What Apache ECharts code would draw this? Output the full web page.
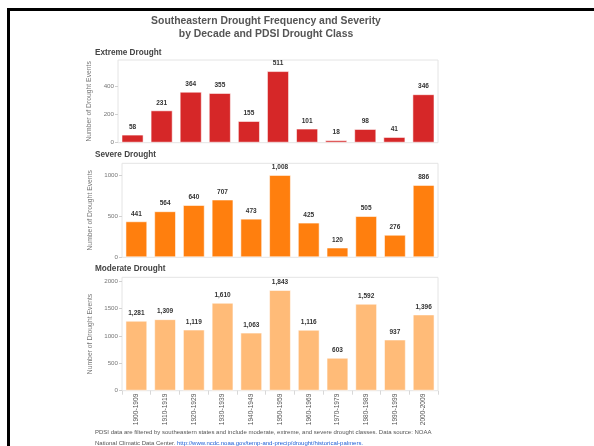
<!DOCTYPE html>
<html>
<head>
<meta charset="utf-8">
<script src="https://cdn.jsdelivr.net/npm/echarts@6/dist/echarts.min.js"></script>
<style>
  html, body { margin: 0; padding: 0; background: #fff; }
  #chart { width: 594px; height: 446px; }
</style>
</head>
<body>
<div id="chart"></div>
<script>
const decades = ['1900-1909', '1910-1919', '1920-1929', '1930-1939', '1940-1949', '1950-1959',
  '1960-1969', '1970-1979', '1980-1989', '1990-1999', '2000-2009']
const extreme = [58, 231, 364, 355, 155, 511, 101, 18, 98, 41, 346]
const severe = [441, 564, 640, 707, 473, 1008, 425, 120, 505, 276, 886]
const moderate = [1281, 1309, 1119, 1610, 1063, 1843, 1116, 603, 1592, 937, 1396]

const FONT = 'Liberation Sans'
const chart = echarts.init(document.getElementById('chart'))

// one panel per drought class
const panels = [
  { name: 'Extreme Drought', data: extreme, color: '#d62728', grid: { left: 118, top: 60, width: 320, height: 82.7 }, max: 590, interval: 200, showX: false },
  { name: 'Severe Drought', data: severe, color: '#ff7f0e', grid: { left: 122, top: 163.3, width: 316, height: 94 }, max: 1150, interval: 500, showX: false },
  { name: 'Moderate Drought', data: moderate, color: '#ffbb78', grid: { left: 122, top: 277.3, width: 316, height: 113.4 }, max: 2075, interval: 500, showX: true }
]
const titleTops = [48.5, 151, 265]

const option = {
  animation: false,
  title: [
    {
      text: 'Southeastern Drought Frequency and Severity\nby Decade and PDSI Drought Class',
      left: 266, top: 15, textAlign: 'center', padding: 0,
      textStyle: { fontFamily: FONT, fontSize: 10.4, fontWeight: 'bold', color: '#555', lineHeight: 13 }
    },
    ...panels.map((p, i) => ({
      text: p.name, left: 95, top: titleTops[i], padding: 0,
      textStyle: { fontFamily: FONT, fontSize: 8.2, fontWeight: 'bold', color: '#444' }
    })),
    {
      text: 'PDSI data are filtered by southeastern states and include moderate, extreme, and severe drought classes. Data source: NOAA\nNational Climatic Data Center. {link|http://www.ncdc.noaa.gov/temp-and-precip/drought/historical-palmers.}',
      left: 95, top: 427, padding: 0,
      textStyle: {
        fontFamily: FONT, fontSize: 6, fontWeight: 'normal', color: '#555', lineHeight: 11,
        rich: { link: { fontFamily: FONT, fontSize: 6, color: '#1f5fd6' } }
      }
    }
  ],
  graphic: [
    { type: 'line', shape: { x1: 7, y1: 9.5, x2: 594, y2: 9.5 }, style: { stroke: '#000', lineWidth: 3 } },
    { type: 'line', shape: { x1: 8.5, y1: 8, x2: 8.5, y2: 446 }, style: { stroke: '#000', lineWidth: 3 } }
  ],
  grid: panels.map(p => Object.assign({ show: true, borderColor: '#e4e4e4', borderWidth: 1 }, p.grid)),
  xAxis: panels.map((p, i) => ({
    type: 'category', gridIndex: i, data: decades,
    axisLine: { show: false },
    axisTick: { show: p.showX, length: 4, lineStyle: { color: '#d8d8d8' } },
    axisLabel: { show: p.showX, rotate: 90, margin: 3, fontFamily: FONT, fontSize: 6.6, color: '#555' }
  })),
  yAxis: panels.map((p, i) => ({
    type: 'value', gridIndex: i, min: 0, max: p.max, interval: p.interval,
    name: 'Number of Drought Events', nameLocation: 'middle', nameGap: 17,
    nameTextStyle: { fontFamily: FONT, fontSize: 6.8, color: '#777' },
    splitLine: { show: false },
    axisLine: { show: false },
    axisTick: { show: true, length: 3, lineStyle: { color: '#d0d0d0' } },
    axisLabel: {
      showMaxLabel: false, margin: 4, fontFamily: FONT, fontSize: 6.2, color: '#777',
      formatter: v => String(v)
    }
  })),
  series: panels.map((p, i) => ({
    type: 'bar', name: p.name, xAxisIndex: i, yAxisIndex: i, data: p.data,
    barCategoryGap: '24%',
    itemStyle: { color: p.color, borderColor: 'rgba(255,255,255,0.55)', borderWidth: 1 },
    label: {
      show: true, position: 'top', distance: 4,
      fontFamily: FONT, fontSize: 6.5, fontWeight: 'bold', color: '#333',
      formatter: d => d.value.toLocaleString('en-US')
    }
  }))
}

chart.setOption(option)
</script>
</body>
</html>
